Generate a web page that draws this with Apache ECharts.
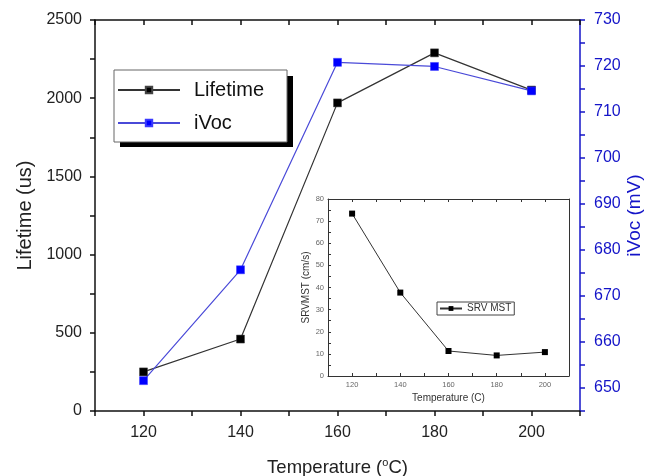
<!DOCTYPE html>
<html>
<head>
<meta charset="utf-8">
<script src="https://cdn.jsdelivr.net/npm/echarts@6/dist/echarts.min.js"></script>
<style>html,body{margin:0;padding:0;background:#fff}#c{width:646px;height:476px}</style>
</head>
<body>
<div id="c"></div>
<script>
var temperatures = [120, 140, 160, 180, 200];
var lifetime = [250, 460, 1970, 2290, 2052];
var ivoc = [651.6, 675.7, 720.8, 719.9, 714.6];
var srvTemps = [120, 140, 160, 180, 200];
var srvMst = [73.4, 37.7, 11.3, 9.3, 10.8];

function pairs(xs, ys) { return xs.map(function (x, i) { return [x, ys[i]]; }); }

var chart = echarts.init(document.getElementById('c'), null, { renderer: 'canvas' });
var FONT = 'Liberation Sans';
var BLUE = '#1414c8';

chart.setOption({
  animation: false,
  backgroundColor: '#fff',
  grid: [
    { left: 95, right: 66, top: 20, bottom: 65, outerBoundsMode: 'none', containLabel: false },
    { left: 328, width: 241, top: 199, height: 177, outerBoundsMode: 'none', containLabel: false }
  ],
  graphic: [
    { type: 'rect', z: 0, shape: { x: 120, y: 76, width: 173, height: 71 }, style: { fill: '#000' } }
  ],
  legend: [
    {
      data: ['Lifetime', 'iVoc'],
      orient: 'vertical', left: 114, top: 70, z: 5,
      padding: [10, 23, 9, 3], itemGap: 13,
      itemWidth: 62, itemHeight: 8,
      backgroundColor: '#fff', borderColor: '#666', borderWidth: 1,
      textStyle: { fontFamily: FONT, fontSize: 20, color: '#111', lineHeight: 20, padding: [0, 0, 0, 9] }
    },
    {
      data: ['SRV MST'],
      left: 437, top: 302, padding: [1, 3, 1, 2],
      itemWidth: 22, itemHeight: 6,
      borderColor: '#444', borderWidth: 1, backgroundColor: '#fff',
      textStyle: { fontFamily: FONT, fontSize: 10, color: '#333', lineHeight: 11 }
    }
  ],
  xAxis: [
    {
      gridIndex: 0, type: 'value', min: 110, max: 210, interval: 10,
      name: 'Temperature ({sup|o}C)', nameLocation: 'middle', nameGap: 46, nameMoveOverlap: false,
      nameTextStyle: { fontFamily: FONT, fontSize: 18.5, color: '#222', rich: { sup: { fontSize: 11, verticalAlign: 'top', padding: [0, 0, 10, 0], fontFamily: FONT, color: '#222' } } },
      axisLine: { onZero: false, lineStyle: { color: '#111', width: 1.5 } },
      axisTick: { inside: false, length: 5, lineStyle: { color: '#111', width: 1.5 } },
      axisLabel: { fontFamily: FONT, fontSize: 16, color: '#222', margin: 14, formatter: function (v) { return v % 20 === 0 ? v : ''; } },
      splitLine: { show: false }
    },
    {
      gridIndex: 0, type: 'value', position: 'top', min: 110, max: 210, interval: 10,
      axisLine: { onZero: false, lineStyle: { color: '#111', width: 1.5 } },
      axisTick: { inside: true, length: 5, lineStyle: { color: '#111', width: 1.5 } },
      axisLabel: { show: false }, splitLine: { show: false }
    },
    {
      gridIndex: 1, type: 'value', min: 110, max: 210, interval: 10,
      name: 'Temperature (C)', nameLocation: 'middle', nameGap: 17,
      nameTextStyle: { fontFamily: FONT, fontSize: 10, color: '#333' },
      axisLine: { onZero: false, lineStyle: { color: '#333', width: 1 } },
      axisTick: { inside: true, length: 3, lineStyle: { color: '#333' } },
      axisLabel: { fontFamily: FONT, fontSize: 7.5, color: '#666', margin: 5, formatter: function (v) { return v % 20 === 0 ? v : ''; } },
      splitLine: { show: false }
    },
    {
      gridIndex: 1, type: 'value', position: 'top', min: 110, max: 210, interval: 10,
      axisLine: { onZero: false, lineStyle: { color: '#333', width: 1 } },
      axisTick: { inside: true, length: 3, lineStyle: { color: '#333' } },
      axisLabel: { show: false }, splitLine: { show: false }
    }
  ],
  yAxis: [
    {
      gridIndex: 0, type: 'value', min: 0, max: 2500, interval: 250,
      name: 'Lifetime (us)', nameLocation: 'middle', nameGap: 60, nameMoveOverlap: false,
      nameTextStyle: { fontFamily: FONT, fontSize: 20, color: '#222' },
      axisLine: { show: true, lineStyle: { color: '#111', width: 1.5 } },
      axisTick: { show: true, inside: false, length: 5, lineStyle: { color: '#111', width: 1.5 } },
      axisLabel: { fontFamily: FONT, fontSize: 16, color: '#222', margin: 13, formatter: function (v) { return v % 500 === 0 ? v : ''; } },
      splitLine: { show: false }
    },
    {
      gridIndex: 0, type: 'value', position: 'right', min: 645, max: 730, interval: 5,
      name: 'iVoc (mV)', nameLocation: 'middle', nameGap: 45, nameMoveOverlap: false,
      nameTextStyle: { fontFamily: FONT, fontSize: 19, color: BLUE },
      axisLine: { show: true, lineStyle: { color: BLUE, width: 1.5 } },
      axisTick: { show: true, inside: false, length: 5, lineStyle: { color: BLUE, width: 1.5 } },
      axisLabel: { fontFamily: FONT, fontSize: 16, color: BLUE, margin: 14, formatter: function (v) { return v % 10 === 0 ? v : ''; } },
      splitLine: { show: false }
    },
    {
      gridIndex: 1, type: 'value', min: 0, max: 80, interval: 5,
      name: 'SRVMST (cm/s)', nameLocation: 'middle', nameGap: 17,
      nameTextStyle: { fontFamily: FONT, fontSize: 10, color: '#333' },
      axisLine: { show: true, lineStyle: { color: '#333', width: 1 } },
      axisTick: { show: true, inside: true, length: 3, lineStyle: { color: '#333' } },
      axisLabel: { fontFamily: FONT, fontSize: 7.5, color: '#666', margin: 4, formatter: function (v) { return v % 10 === 0 ? v : ''; } },
      splitLine: { show: false }
    },
    {
      gridIndex: 1, type: 'value', position: 'right', min: 0, max: 80, interval: 5,
      axisLine: { show: true, lineStyle: { color: '#333', width: 1 } },
      axisTick: { show: false }, axisLabel: { show: false }, splitLine: { show: false }
    }
  ],
  series: [
    {
      name: 'Lifetime', type: 'line', xAxisIndex: 0, yAxisIndex: 0,
      data: pairs(temperatures, lifetime),
      symbol: 'rect', symbolSize: 8,
      lineStyle: { color: '#333', width: 1.2 },
      itemStyle: { color: '#000', borderColor: '#444', borderWidth: 0.5 }
    },
    {
      name: 'iVoc', type: 'line', xAxisIndex: 0, yAxisIndex: 1,
      data: pairs(temperatures, ivoc),
      symbol: 'rect', symbolSize: 8,
      lineStyle: { color: '#4a4ad8', width: 1.2 },
      itemStyle: { color: '#0000ff', borderColor: '#3a3aff', borderWidth: 0.5 }
    },
    {
      name: 'SRV MST', type: 'line', xAxisIndex: 2, yAxisIndex: 2,
      data: pairs(srvTemps, srvMst),
      symbol: 'rect', symbolSize: 6,
      lineStyle: { color: '#333', width: 1 },
      itemStyle: { color: '#000' }
    }
  ]
});
</script>
</body>
</html>
